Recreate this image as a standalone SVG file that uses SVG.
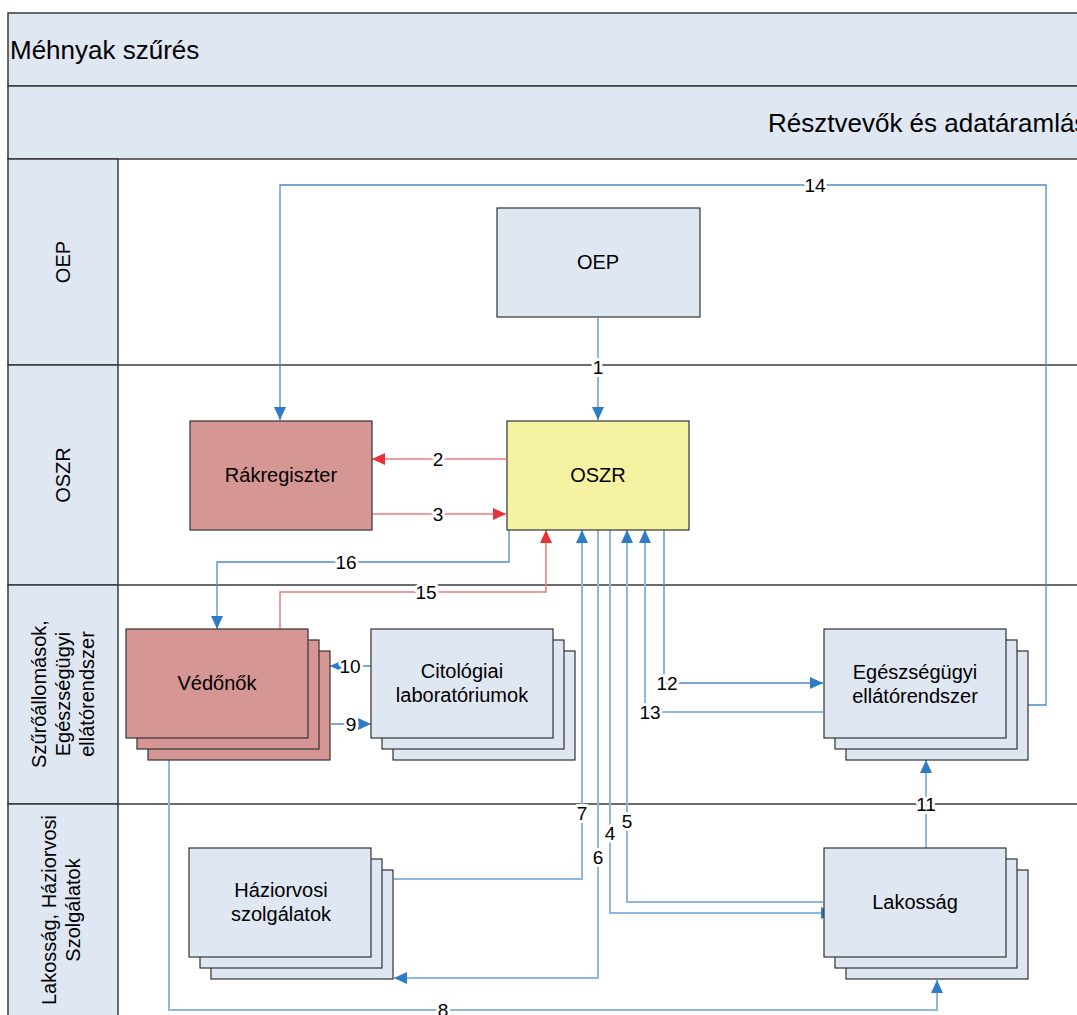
<svg xmlns="http://www.w3.org/2000/svg" width="1077" height="1015" viewBox="0 0 1077 1015">
<style>
text{font-family:"Liberation Sans",Arial,sans-serif;fill:#000}
.hdr{fill:#dfe7f3;stroke:#3a3a3a;stroke-width:1.5}
.lane{fill:#dfe7f3;stroke:#3a3a3a;stroke-width:1.5}
.sep{stroke:#3a3a3a;stroke-width:1.5}
.nb{fill:#dfe7f3;stroke:#333;stroke-width:1.2}
.np{fill:#d69694;stroke:#333;stroke-width:1.2}
.ny{fill:#f5f2a1;stroke:#333;stroke-width:1.2}
.ht{font-size:26px}
.lt{font-size:20px}
.nt{font-size:20px;text-anchor:middle}
.c{fill:none;stroke:#4f8bcb;stroke-width:1.3}
.cl{fill:none;stroke:#8fb8e0;stroke-width:2}
.cr{fill:none;stroke:#f07a7a;stroke-width:1.5}
.lb{font-size:19px;text-anchor:middle;stroke:#fff;stroke-width:6px;paint-order:stroke;stroke-linejoin:round}
</style>
<defs>
<marker id="ab" markerUnits="userSpaceOnUse" markerWidth="14" markerHeight="12" refX="13" refY="6" orient="auto"><path d="M0,0 L13,6 L0,12 z" fill="#2e7bc6"/></marker>
<marker id="ar" markerUnits="userSpaceOnUse" markerWidth="14" markerHeight="12" refX="13" refY="6" orient="auto"><path d="M0,0 L13,6 L0,12 z" fill="#e8323a"/></marker>
</defs>
<rect width="1077" height="1015" fill="#fff"/>
<g id="header">
<rect class="hdr" x="8" y="13" width="1090" height="73"/>
<text class="ht" x="10" y="59">Méhnyak szűrés</text>
<rect class="hdr" x="8" y="86" width="1090" height="73"/>
<text class="ht" x="768" y="132">Résztvevők és adatáramlás</text>
</g>
<g id="lanes">
<rect class="lane" x="8" y="159" width="110" height="206"/>
<rect class="lane" x="8" y="365" width="110" height="220"/>
<rect class="lane" x="8" y="585" width="110" height="219"/>
<rect class="lane" x="8" y="804" width="110" height="220"/>
<line class="sep" x1="118" y1="365" x2="1077" y2="365"/>
<line class="sep" x1="118" y1="585" x2="1077" y2="585"/>
<line class="sep" x1="118" y1="804" x2="1077" y2="804"/>
<text class="lt" text-anchor="middle" transform="translate(63,262) rotate(-90)" y="7">OEP</text>
<text class="lt" text-anchor="middle" transform="translate(63,475) rotate(-90)" y="7">OSZR</text>
<text class="lt" text-anchor="middle" transform="translate(63,694) rotate(-90)"><tspan x="0" y="-17">Szűrőállomások,</tspan><tspan x="0" y="7">Egészségügyi</tspan><tspan x="0" y="31">ellátórendszer</tspan></text>
<text class="lt" text-anchor="middle" transform="translate(61,910) rotate(-90)"><tspan x="0" y="-5">Lakosság, Háziorvosi</tspan><tspan x="0" y="19">Szolgálatok</tspan></text>
</g>
<g id="connectors">
<path class="c" d="M598,318 V420" marker-end="url(#ab)"/>
<path class="c" d="M1028,705 H1046 V185 H280 V420" marker-end="url(#ab)"/>
<path class="cr" d="M506,459 H372" marker-end="url(#ar)"/>
<path class="cr" d="M372,514 H506" marker-end="url(#ar)"/>
<path class="c" d="M509,530 V562 H217 V629" marker-end="url(#ab)"/>
<path class="cr" d="M280,629 V592 H546 V530" marker-end="url(#ar)"/>
<path class="cl" d="M394,879 H582 V530" marker-end="url(#ab)"/>
<path class="cl" d="M598,530 V978 H394" marker-end="url(#ab)"/>
<path class="cl" d="M610,530 V913 H834" marker-end="url(#ab)"/>
<path class="cl" d="M823,902 H627 V530" marker-end="url(#ab)"/>
<path class="cl" d="M823,712 H645 V530" marker-end="url(#ab)"/>
<path class="c" d="M664,530 V683 H823" marker-end="url(#ab)"/>
<path class="c" d="M371,666 H330" marker-end="url(#ab)"/>
<path class="c" d="M331,724 H371" marker-end="url(#ab)"/>
<path class="cl" d="M926,848 V760" marker-end="url(#ab)"/>
<path class="cl" d="M169,760 V1010 H937 V980" marker-end="url(#ab)"/>
<text class="lb" x="598" y="374">1</text>
<text class="lb" x="815" y="192">14</text>
<text class="lb" x="438" y="466">2</text>
<text class="lb" x="438" y="521">3</text>
<text class="lb" x="346" y="569">16</text>
<text class="lb" x="426" y="599">15</text>
<text class="lb" x="582" y="820">7</text>
<text class="lb" x="598" y="864">6</text>
<text class="lb" x="610" y="840">4</text>
<text class="lb" x="627" y="828">5</text>
<text class="lb" x="650" y="719">13</text>
<text class="lb" x="667" y="690">12</text>
<text class="lb" x="350" y="673">10</text>
<text class="lb" x="351" y="731">9</text>
<text class="lb" x="926" y="811">11</text>
<text class="lb" x="443" y="1017">8</text>
</g>
<g id="oep">
<rect class="nb" x="497" y="208" width="203" height="109"/>
<text class="nt" x="598" y="269">OEP</text>
</g>
<g id="rakregiszter">
<rect class="np" x="190" y="421" width="182" height="109"/>
<text class="nt" x="281" y="482">Rákregiszter</text>
</g>
<g id="oszr">
<rect class="ny" x="507" y="421" width="182" height="109"/>
<text class="nt" x="598" y="482">OSZR</text>
</g>
<g id="vedonok">
<rect class="np" x="148" y="651" width="182" height="109"/>
<rect class="np" x="137" y="640" width="182" height="109"/>
<rect class="np" x="126" y="629" width="182" height="109"/>
<text class="nt" x="217" y="690">Védőnők</text>
</g>
<g id="citologiai">
<rect class="nb" x="393" y="651" width="182" height="109"/>
<rect class="nb" x="382" y="640" width="182" height="109"/>
<rect class="nb" x="371" y="629" width="182" height="109"/>
<text class="nt" x="462" y="678">Citológiai</text>
<text class="nt" x="462" y="702">laboratóriumok</text>
</g>
<g id="egeszsegugyi">
<rect class="nb" x="846" y="651" width="182" height="109"/>
<rect class="nb" x="835" y="640" width="182" height="109"/>
<rect class="nb" x="824" y="629" width="182" height="109"/>
<text class="nt" x="915" y="679">Egészségügyi</text>
<text class="nt" x="915" y="703">ellátórendszer</text>
</g>
<g id="haziorvosi">
<rect class="nb" x="211" y="870" width="182" height="109"/>
<rect class="nb" x="200" y="859" width="182" height="109"/>
<rect class="nb" x="189" y="848" width="182" height="109"/>
<text class="nt" x="281" y="897">Háziorvosi</text>
<text class="nt" x="281" y="921">szolgálatok</text>
</g>
<g id="lakossag">
<rect class="nb" x="846" y="870" width="182" height="109"/>
<rect class="nb" x="835" y="859" width="182" height="109"/>
<rect class="nb" x="824" y="848" width="182" height="109"/>
<text class="nt" x="915" y="909">Lakosság</text>
</g>
</svg>
